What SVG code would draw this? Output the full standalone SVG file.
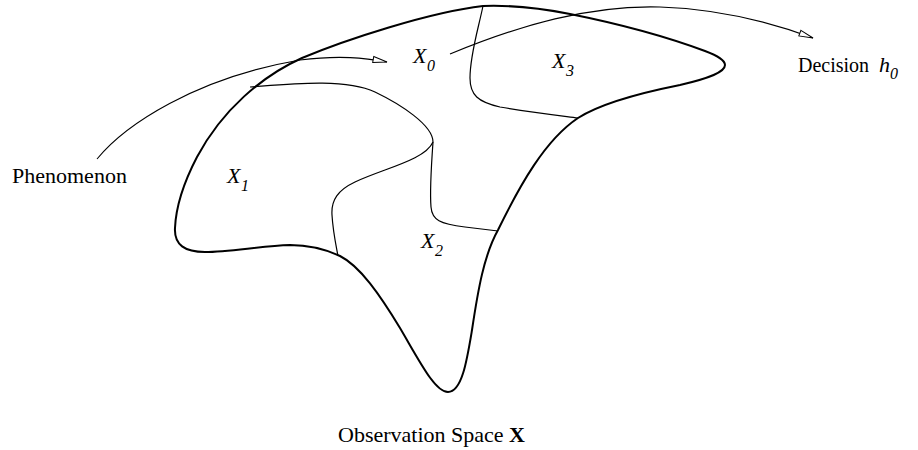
<svg xmlns="http://www.w3.org/2000/svg" width="918" height="450" viewBox="0 0 918 450">
<style>
.t{font-family:"Liberation Serif","Times New Roman",serif;font-size:22px;fill:#000}
.i{font-style:italic}
.s{font-size:16px}
.d{font-size:20px}
.outer{fill:none;stroke:#000;stroke-width:2}
.inner{fill:none;stroke:#000;stroke-width:1.2}
.arr{fill:none;stroke:#000;stroke-width:1.1;marker-end:url(#open)}
</style>
<defs>
<marker id="open" viewBox="0 0 16 8" refX="15" refY="4" markerWidth="16" markerHeight="8" markerUnits="userSpaceOnUse" orient="auto">
<path d="M1,1 L15,4 L1,7 Z" fill="#fff" stroke="#000" stroke-width="1"/>
</marker>
</defs>
<rect width="918" height="450" fill="#fff"/>
<g id="space">
<path class="outer" d="M483,6 C430,12 345,40 302,58 C262,76 222,110 197,157 C185,180 176,205 175,228 C174,245 185,252 205,252 C230,252 260,246 290,245 C310,245 325,249 340,256 C360,266 380,295 400,328 C420,362 435,392 448,392 C462,392 467,360 472,330 C478,290 484,255 498,230 C520,185 545,140 578,118 C600,104 640,93 680,85 C710,78 725,72 725,65 C725,60 718,56 705,51 C670,38 620,24 570,14 C540,8 510,5 483,6 Z"/>
</g>
<g id="regions">
<path class="inner" d="M250,87 C290,84 345,78 375,92 C400,104 433,125 433,142"/>
<path class="inner" d="M433,142 C425,160 385,168 355,182 C338,190 331,200 332,215 C333,232 336,245 338,256"/>
<path class="inner" d="M433,142 C431,170 430,195 431,207 C432,220 440,224 465,227 L498,231"/>
<path class="inner" d="M483,6 C478,30 470,55 470,78 C470,95 478,102 500,107 C530,112 555,115 578,118"/>
</g>
<g id="connectors">
<path class="arr" d="M97,159 C125,125 195,78 300,60 C340,55 365,58 387,62"/>
<path class="arr" d="M450,54 C520,25 590,5 660,7 C720,9 770,22 813,38"/>
</g>
<g id="X0"><text class="t i" x="413" y="63">X</text><text class="t i s" x="427" y="71">0</text></g>
<g id="X1"><text class="t i" x="227" y="183">X</text><text class="t i s" x="241" y="191">1</text></g>
<g id="X2"><text class="t i" x="421" y="248">X</text><text class="t i s" x="435" y="256">2</text></g>
<g id="X3"><text class="t i" x="552" y="68">X</text><text class="t i s" x="566" y="76">3</text></g>
<g id="phenomenon"><text class="t" x="12" y="183">Phenomenon</text></g>
<g id="decision"><text class="t d" x="798" y="72">Decision</text><text class="t i" x="879" y="72">h</text><text class="t i s" x="890" y="79">0</text></g>
<g id="caption"><text class="t" x="338" y="442">Observation Space <tspan font-weight="bold">X</tspan></text></g>
</svg>
